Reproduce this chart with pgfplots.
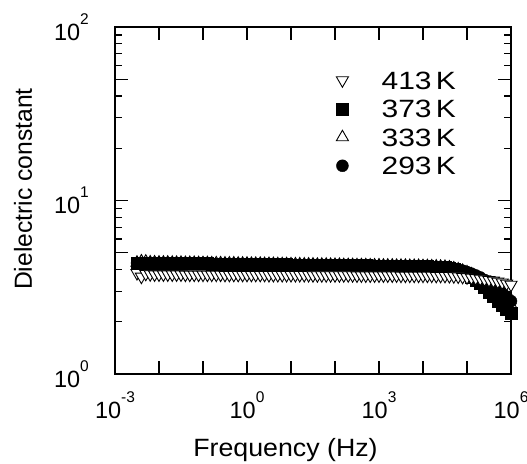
\documentclass[border=0pt]{standalone}
\usepackage{fontspec}
\setmainfont{Liberation Sans}
\newfontfamily\legfont{Liberation Sans}[FakeStretch=1.2]
\newfontfamily\xlfont{Liberation Sans}[FakeStretch=1.07]
\usepackage{pgfplots}
\usepackage{pgfplotstable}
\pgfplotsset{compat=1.18}

% tick label: 10 with raised exponent
\newcommand{\tl}[1]{10\raisebox{16bp}{\fontsize{15.5bp}{15.5bp}\selectfont #1}}

% f (Hz), dielectric constant at 293, 333, 373, 413 K
\pgfplotstableread{
f t293 t333 t373 t413
3.16e-3 4.36 4.38 4.38 3.82
3.98e-3 4.36 4.45 4.38 3.64
5.01e-3 4.35 4.44 4.37 3.78
6.31e-3 4.35 4.39 4.37 3.76
7.94e-3 4.35 4.39 4.37 3.75
1.00e-2 4.34 4.38 4.36 3.75
1.26e-2 4.34 4.38 4.36 3.75
1.58e-2 4.34 4.38 4.36 3.75
2.00e-2 4.33 4.37 4.35 3.75
2.51e-2 4.33 4.37 4.35 3.75
3.16e-2 4.33 4.37 4.35 3.75
3.98e-2 4.32 4.36 4.34 3.74
5.01e-2 4.32 4.36 4.34 3.74
6.31e-2 4.32 4.36 4.34 3.74
7.94e-2 4.31 4.35 4.33 3.74
0.100 4.31 4.35 4.33 3.74
0.126 4.31 4.35 4.33 3.74
0.158 4.30 4.34 4.32 3.74
0.200 4.30 4.34 4.32 3.74
0.251 4.30 4.34 4.32 3.74
0.316 4.29 4.33 4.31 3.73
0.398 4.29 4.33 4.31 3.73
0.501 4.29 4.33 4.31 3.73
0.631 4.28 4.32 4.30 3.73
0.794 4.28 4.32 4.30 3.73
1.00 4.28 4.32 4.30 3.73
1.26 4.27 4.31 4.29 3.73
1.58 4.27 4.31 4.29 3.73
2.00 4.27 4.31 4.29 3.73
2.51 4.26 4.30 4.28 3.73
3.16 4.26 4.30 4.28 3.72
3.98 4.26 4.30 4.28 3.72
5.01 4.25 4.29 4.27 3.72
6.31 4.25 4.29 4.27 3.72
7.94 4.25 4.29 4.27 3.72
10.0 4.24 4.28 4.26 3.72
12.6 4.24 4.28 4.26 3.72
15.8 4.24 4.28 4.26 3.72
20.0 4.23 4.27 4.25 3.72
25.1 4.23 4.27 4.25 3.72
31.6 4.23 4.27 4.25 3.71
39.8 4.22 4.26 4.24 3.71
50.1 4.22 4.26 4.24 3.71
63.1 4.22 4.26 4.24 3.71
79.4 4.21 4.25 4.23 3.71
100 4.21 4.25 4.23 3.71
126 4.21 4.25 4.23 3.71
158 4.20 4.24 4.22 3.71
200 4.20 4.24 4.22 3.71
251 4.20 4.24 4.22 3.71
316 4.19 4.23 4.21 3.70
398 4.19 4.23 4.21 3.70
501 4.19 4.23 4.21 3.70
631 4.18 4.22 4.20 3.70
794 4.18 4.22 4.20 3.70
1000 4.18 4.22 4.20 3.70
1260 4.17 4.21 4.19 3.70
1580 4.17 4.21 4.19 3.70
2000 4.17 4.21 4.19 3.70
2510 4.16 4.20 4.18 3.70
3160 4.16 4.20 4.18 3.69
3980 4.16 4.20 4.18 3.69
5010 4.15 4.19 4.17 3.69
6310 4.15 4.19 4.17 3.69
7940 4.15 4.19 4.17 3.69
1.00e4 4.14 4.18 4.16 3.69
1.26e4 4.14 4.18 4.16 3.69
1.58e4 4.13 4.17 4.15 3.69
2.00e4 4.13 4.16 4.14 3.68
2.51e4 4.12 4.15 4.12 3.68
3.16e4 4.12 4.14 4.10 3.68
3.98e4 4.09 4.11 4.06 3.67
5.01e4 4.05 4.06 4.00 3.66
6.31e4 4.00 4.00 3.93 3.65
7.94e4 3.94 3.93 3.85 3.63
1.00e5 3.87 3.85 3.75 3.61
1.26e5 3.79 3.75 3.62 3.59
1.58e5 3.70 3.64 3.48 3.57
2.00e5 3.60 3.52 3.33 3.54
2.51e5 3.48 3.39 3.16 3.51
3.16e5 3.36 3.25 2.98 3.48
3.98e5 3.23 3.10 2.80 3.45
5.01e5 3.09 2.95 2.63 3.41
6.31e5 2.94 2.80 2.48 3.37
7.94e5 2.79 2.65 2.35 3.32
1.00e6 2.63 2.50 2.24 3.27
}\datatab

\begin{document}
\begin{tikzpicture}
\begin{axis}[
  scale only axis, width=396bp, height=347bp,
  xmode=log, ymode=log,
  xmin=1e-3, xmax=1e6, ymin=1, ymax=100,
  xtick={1e-3,1e-2,1e-1,1,10,100,1000,1e4,1e5,1e6},
  xticklabels={\tl{-3},,,\tl{0},,,\tl{3},,,\tl{6}},
  minor x tick style={draw=none},
  ytick={1,10,100},
  yticklabels={\tl{0},\tl{1},\tl{2}},
  minor ytick={2,3,4,6,7,8,9,20,30,40,60,70,80,90},
  extra y ticks={5,50},
  extra y tick labels={},
  tick align=inside,
  major tick length=13bp, minor tick length=7bp,
  tick style={black, line width=1.2bp},
  axis line style={line width=1.6bp},
  tick label style={font=\fontsize{23.5bp}{23.5bp}\selectfont},
  xticklabel style={anchor=base, inner sep=0pt, yshift=-44bp},
  yticklabel style={anchor=east, inner sep=0pt, xshift=-26bp},
  xlabel={Frequency (Hz)},
  xlabel style={at={(rel axis cs:0.4306,-0.239)}, anchor=base,
    font=\xlfont\fontsize{25bp}{25bp}\selectfont},
  ylabel={Dielectric constant},
  ylabel style={at={(rel axis cs:-0.232,0.533)}, anchor=center,
    font=\fontsize{24.7bp}{24.7bp}\selectfont},
  clip=false,
  legend style={at={(rel axis cs:0.5556,0.873)}, anchor=north west,
    draw=none, fill=none, inner sep=0pt, row sep=10.5bp,
    font=\legfont\fontsize{25bp}{25bp}\selectfont,
    cells={anchor=west},
    nodes={inner sep=0pt, text height=18bp, text depth=0bp}},
  legend image code/.code={\path[#1] plot coordinates {(0bp,0bp)};
    \path (-7bp,0bp) (39bp,0bp);},
]
\addplot[only marks, mark=triangle*, mark size=7bp,
  mark options={fill=white, draw=black, line width=0.9bp}, forget plot]
  table[x=f, y=t333] {\datatab};
\addplot[only marks, black, mark=*, mark size=6bp, forget plot]
  table[x=f, y=t293] {\datatab};
\addplot[only marks, black, mark=square*, mark size=6bp, forget plot]
  table[x=f, y=t373] {\datatab};
\addplot[only marks, mark=triangle*, mark size=7bp,
  mark options={fill=white, draw=black, line width=0.9bp, rotate=180}, forget plot]
  table[x=f, y=t413] {\datatab};

\addlegendimage{black, mark=triangle*, mark size=7bp,
  mark options={fill=white, draw=black, line width=0.9bp, rotate=180}}
\addlegendentry{413\,K}
\addlegendimage{black, mark=square*, mark size=6bp}
\addlegendentry{373\,K}
\addlegendimage{black, mark=triangle*, mark size=7bp,
  mark options={fill=white, draw=black, line width=0.9bp}}
\addlegendentry{333\,K}
\addlegendimage{black, mark=*, mark size=6bp}
\addlegendentry{293\,K}

\coordinate (bbsw) at (rel axis cs:-0.2904,-0.2565);
\coordinate (bbne) at (rel axis cs:1.0404,1.0778);
\end{axis}
\pgfresetboundingbox
\path[use as bounding box] (bbsw) rectangle (bbne);
\end{tikzpicture}
\end{document}
